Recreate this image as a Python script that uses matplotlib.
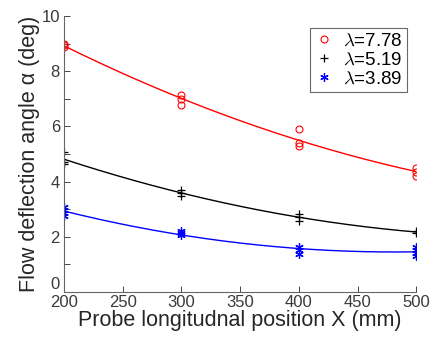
import numpy as np
import matplotlib
matplotlib.use('Agg')
import matplotlib.pyplot as plt

plt.rcParams['font.family'] = ['Liberation Sans', 'DejaVu Sans']
plt.rcParams['mathtext.fontset'] = 'cm'

x_red = [200, 200, 200, 300, 300, 300, 400, 400, 400, 500, 500, 500]
y_red = [9.00, 8.93, 8.86, 7.15, 6.98, 6.78, 5.90, 5.41, 5.29, 4.48, 4.36, 4.20]

x_blk = [200, 200, 200, 300, 300, 300, 400, 400, 400, 500, 500]
y_blk = [5.07, 4.72, 4.63, 3.70, 3.58, 3.48, 2.82, 2.71, 2.58, 2.21, 2.13]

x_blu = [200, 200, 200, 200, 300, 300, 300, 400, 400, 400, 500, 500, 500, 500]
y_blu = [3.07, 2.97, 2.85, 2.75, 2.21, 2.13, 2.07, 1.61, 1.50, 1.38, 1.64, 1.52, 1.42, 1.30]

labels = [r'$\lambda$=7.78', r'$\lambda$=5.19', r'$\lambda$=3.89']
colors = ['#ff0000', '#000000', '#0000ff']
markers = ['o', '+', (6, 2, 0)]

x_ticks = [200, 250, 300, 350, 400, 450, 500]
y_ticks = [0, 2, 4, 6, 8, 10]

# %% figure
fig = plt.figure(figsize=(4.3, 3.39), dpi=100)
ax = fig.add_axes([0.149, 0.139, 0.819, 0.814])

xf = np.linspace(200, 500, 200)
series = [(x_red, y_red), (x_blk, y_blk), (x_blu, y_blu)]
for (xs, ys), c, m, lab in zip(series, colors, markers, labels):
    if m == 'o':
        ax.plot(xs, ys, ls='none', marker=m, ms=5, mfc='none', mec=c, mew=0.8, label=lab)
    else:
        ax.plot(xs, ys, ls='none', marker=m, ms=6, color=c, mew=0.9, label=lab)
    p = np.polyfit(xs, ys, 2)  # quadratic fit as in the reference
    ax.plot(xf, np.polyval(p, xf), color=c, lw=1.0)

ax.set_xlim(200, 500)
ax.set_ylim(0, 10)
ax.set_xticks(x_ticks)
ax.set_yticks(y_ticks)
ax.set_yticks([1, 3, 5, 7, 9], minor=True)
ax.tick_params(which='both', direction='in', labelsize=12, colors='#444444',
               labelcolor='#3a3a3a', length=4, width=0.7)
ax.tick_params(axis='y', pad=3)
ax.tick_params(axis='x', pad=2)
ax.get_yticklabels()[0].set_va('bottom')
for s in ['top', 'right']:
    ax.spines[s].set_visible(False)
for s in ['left', 'bottom']:
    ax.spines[s].set_color('#666666')
    ax.spines[s].set_linewidth(0.8)

ax.set_xlabel('Probe longitudnal position X (mm)', fontsize=15.5, color='#262626', labelpad=0)
ax.set_ylabel('Flow deflection angle α (deg)', fontsize=15.5, color='#262626', labelpad=1)

leg = ax.legend(loc='upper right', bbox_to_anchor=(0.985, 0.97), fontsize=13.5,
                frameon=True, fancybox=False, handlelength=1.0, handletextpad=0.5,
                borderpad=0.25, labelspacing=0.1, borderaxespad=0.2)
leg.get_frame().set_edgecolor('#444444')
leg.get_frame().set_linewidth(0.8)

fig.savefig('out.png', dpi=100)
